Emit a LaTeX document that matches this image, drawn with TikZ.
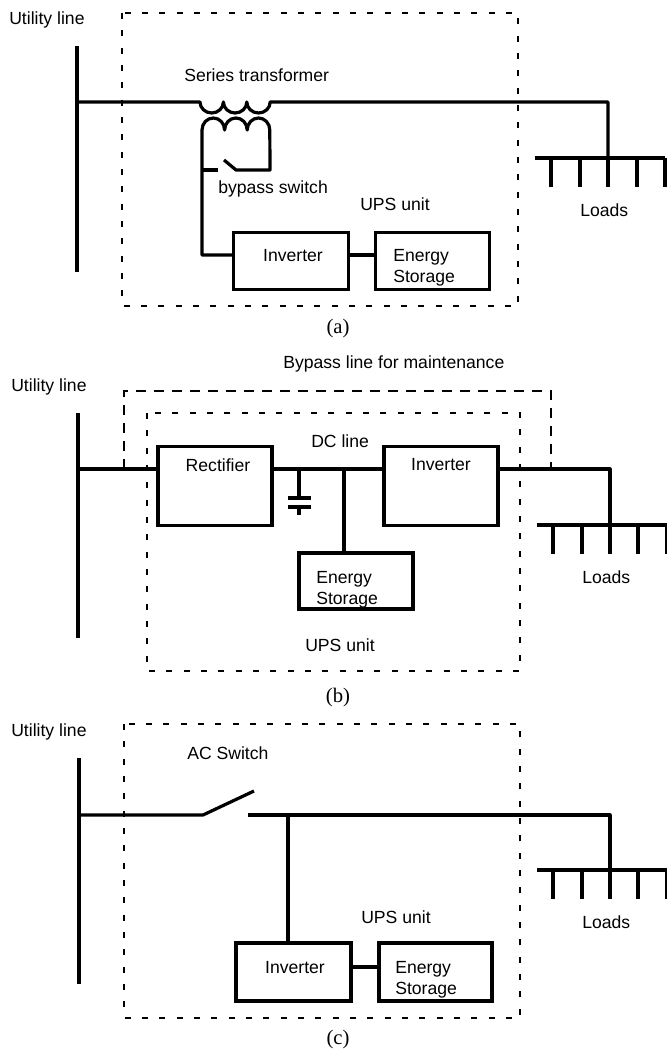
\documentclass[tikz,border=0pt]{standalone}
\usepackage{fontspec}
\setmainfont{Liberation Sans}
\newfontfamily\capfont{Liberation Serif}
\usetikzlibrary{calc}
\begin{document}
\begin{tikzpicture}[x=0.75pt,y=-0.75pt]

    \tikzset{
      wire/.style={line width=2.4pt},
      unitbox/.style={line width=1.5pt,dash pattern=on 4.5pt off 8.5pt},
      bypassbox/.style={line width=1.5pt,dash pattern=on 7.5pt off 6pt},
      block/.style={
        draw,
        line width=2.4pt,
        inner sep=0pt,
      },
      lbl/.style={inner sep=0pt,font=\fontsize{13.2}{15.8}\selectfont,align=left},
      panelcap/.style={inner sep=0pt,font=\capfont\fontsize{15.5}{18}\selectfont},
    }
    \useasboundingbox (0,0) rectangle (667,1049);
    \fill[white] (0,0) rectangle (667,1049);

    % (a)
    \draw[unitbox] (122,13) rectangle (518,306);
    \coordinate (bartopa) at (77,46);
    \coordinate (barbota) at (77,272);
    \coordinate (linea) at (77,102);
    \coordinate (coilla) at (200,102);
    \coordinate (coilra) at (270,102);
    \coordinate (dropa) at (608,102);
    \coordinate (busa) at (608,158);
    \coordinate (busla) at (535,158);
    \coordinate (busra) at (665,158);
    \coordinate (secla) at (202,130);
    \coordinate (feeda) at (202,255);
    \coordinate (swla) at (202,170);
    \coordinate (swra) at (270,170);
    \node[block,minimum width=115pt*0.75,minimum height=57pt*0.75] (inva) at (291,261) {};
    \node[block,minimum width=114pt*0.75,minimum height=57pt*0.75] (stoa) at (432.5,261) {};
    \draw[wire] (bartopa)--(barbota);
    \draw[wire,line join=round] (linea)--(coilla)
      arc[start angle=180,end angle=0,x radius=11.7,y radius=11]
      arc[start angle=180,end angle=0,x radius=11.7,y radius=11]
      arc[start angle=180,end angle=0,x radius=11.7,y radius=11]--(coilra)--(dropa)--(busa);
    \draw[wire,line join=round] (feeda -| inva.west) -- (feeda)--(secla)
      arc[start angle=180,end angle=360,x radius=11.3,y radius=12]
      arc[start angle=180,end angle=360,x radius=11.3,y radius=12]
      arc[start angle=180,end angle=360,x radius=11.3,y radius=12]--(swra)--(236,170)--(224,160);
    \draw[wire] (swla)--(218,170);
    \draw[wire] (feeda -| inva.east)--(feeda -| stoa.west);
    \draw[wire] (busla)--(busra);
    \foreach \x in {551,580,608,637,665} {
      \coordinate (t) at (\x,158);
      \draw[wire] (t)--++(0,29);
    }
    \node[lbl,anchor=west] (utila) at (9,19.5) {Utility line};
    \node[lbl,anchor=west] (sta) at (184,75) {Series transformer};
    \node[lbl,anchor=west] (bpa) at (218,189) {bypass switch};
    \node[lbl,anchor=west] (upsa) at (360,204) {UPS unit};
    \node[lbl,anchor=west] (loada) at (580,210) {Loads};
    \node[lbl] (invla) at (293,256) {Inverter};
    \node[lbl,anchor=west] (stola) at (393,268) {Energy\\Storage};
    \node[panelcap] (capa) at (338,329) {(a)};

    % (b)
    \draw[unitbox] (147,413) rectangle (520,671);
    \coordinate (bartopb) at (78,413);
    \coordinate (barbotb) at (78,638);
    \coordinate (lineb) at (78,469);
    \coordinate (outlb) at (124,469);
    \coordinate (outrb) at (551,469);
    \coordinate (dropb) at (610,469);
    \coordinate (busb) at (610,525);
    \coordinate (buslb) at (537,525);
    \coordinate (busrb) at (667,525);
    \coordinate (capb) at (299,469);
    \coordinate (stub) at (344,469);
    \node[block,minimum width=114pt*0.75,minimum height=79pt*0.75] (recb) at (215,486) {};
    \node[block,minimum width=114pt*0.75,minimum height=79pt*0.75] (invb) at (441,486) {};
    \node[block,minimum width=114pt*0.75,minimum height=56pt*0.75] (stob) at (356,581) {};
    \draw[bypassbox] (outlb)--(124,391)--(551,391)--(outrb);
    \draw[wire] (bartopb)--(barbotb);
    \draw[wire] (lineb)--(lineb -| recb.west);
    \draw[wire] (recb.east |- lineb)--(lineb -| invb.west);
    \draw[wire,line join=round] (invb.east |- lineb)--(dropb)--(busb);
    \draw[wire] (capb)--++(0,29);
    \draw[wire] (288,498)--(311,498);
    \draw[wire] (288,507)--(311,507);
    \draw[wire] (299,507)--(299,515);
    \draw[wire] (stub)--(stub |- stob.north);
    \draw[wire] (buslb)--(busrb);
    \foreach \x in {553,582,610,638,667} {
      \coordinate (t) at (\x,525);
      \draw[wire] (t)--++(0,29);
    }
    \node[lbl,anchor=west] (utilb) at (11,387) {Utility line};
    \node[lbl,anchor=west] (bplb) at (283,364) {Bypass line for maintenance};
    \node[lbl,anchor=west] (dclb) at (311,441) {DC line};
    \node[lbl] (reclb) at (218,465) {Rectifier};
    \node[lbl] (invlb) at (441,465) {Inverter};
    \node[lbl,anchor=west] (stolb) at (316,590) {Energy\\Storage};
    \node[lbl,anchor=west] (upsb) at (305,645) {UPS unit};
    \node[lbl,anchor=west] (loadb) at (582,577) {Loads};
    \node[panelcap] (capbl) at (338,698) {(b)};

    % (c)
    \draw[unitbox] (124,724) rectangle (520,1018);
    \coordinate (bartopc) at (79,758);
    \coordinate (barbotc) at (79,984);
    \coordinate (linec) at (79,815);
    \coordinate (swlc) at (203,815);
    \coordinate (swtc) at (254,791);
    \coordinate (swrc) at (248,815);
    \coordinate (dropc) at (610,815);
    \coordinate (busc) at (610,870);
    \coordinate (buslc) at (537,870);
    \coordinate (busrc) at (667,870);
    \coordinate (tapc) at (288,815);
    \coordinate (feedc) at (351,967);
    \node[block,minimum width=115pt*0.75,minimum height=58pt*0.75] (invc) at (293.5,972) {};
    \node[block,minimum width=113pt*0.75,minimum height=58pt*0.75] (stoc) at (435.5,972) {};
    \draw[wire] (bartopc)--(barbotc);
    \draw[wire,line join=round] (linec)--(swlc)--(swtc);
    \draw[wire,line join=round] (swrc)--(dropc)--(busc);
    \draw[wire] (tapc)--(tapc |- invc.north);
    \draw[wire] (feedc -| invc.east)--(feedc -| stoc.west);
    \draw[wire] (buslc)--(busrc);
    \foreach \x in {553,582,610,638,667} {
      \coordinate (t) at (\x,870);
      \draw[wire] (t)--++(0,29);
    }
    \node[lbl,anchor=west] (utilc) at (11,732) {Utility line};
    \node[lbl,anchor=west] (acc) at (187,753) {AC Switch};
    \node[lbl,anchor=west] (upsc) at (361,917) {UPS unit};
    \node[lbl,anchor=west] (loadc) at (582,922) {Loads};
    \node[lbl] (invlc) at (295,968) {Inverter};
    \node[lbl,anchor=west] (stolc) at (395,980) {Energy\\Storage};
    \node[panelcap] (capc) at (338,1040) {(c)};

\end{tikzpicture}
\end{document}
